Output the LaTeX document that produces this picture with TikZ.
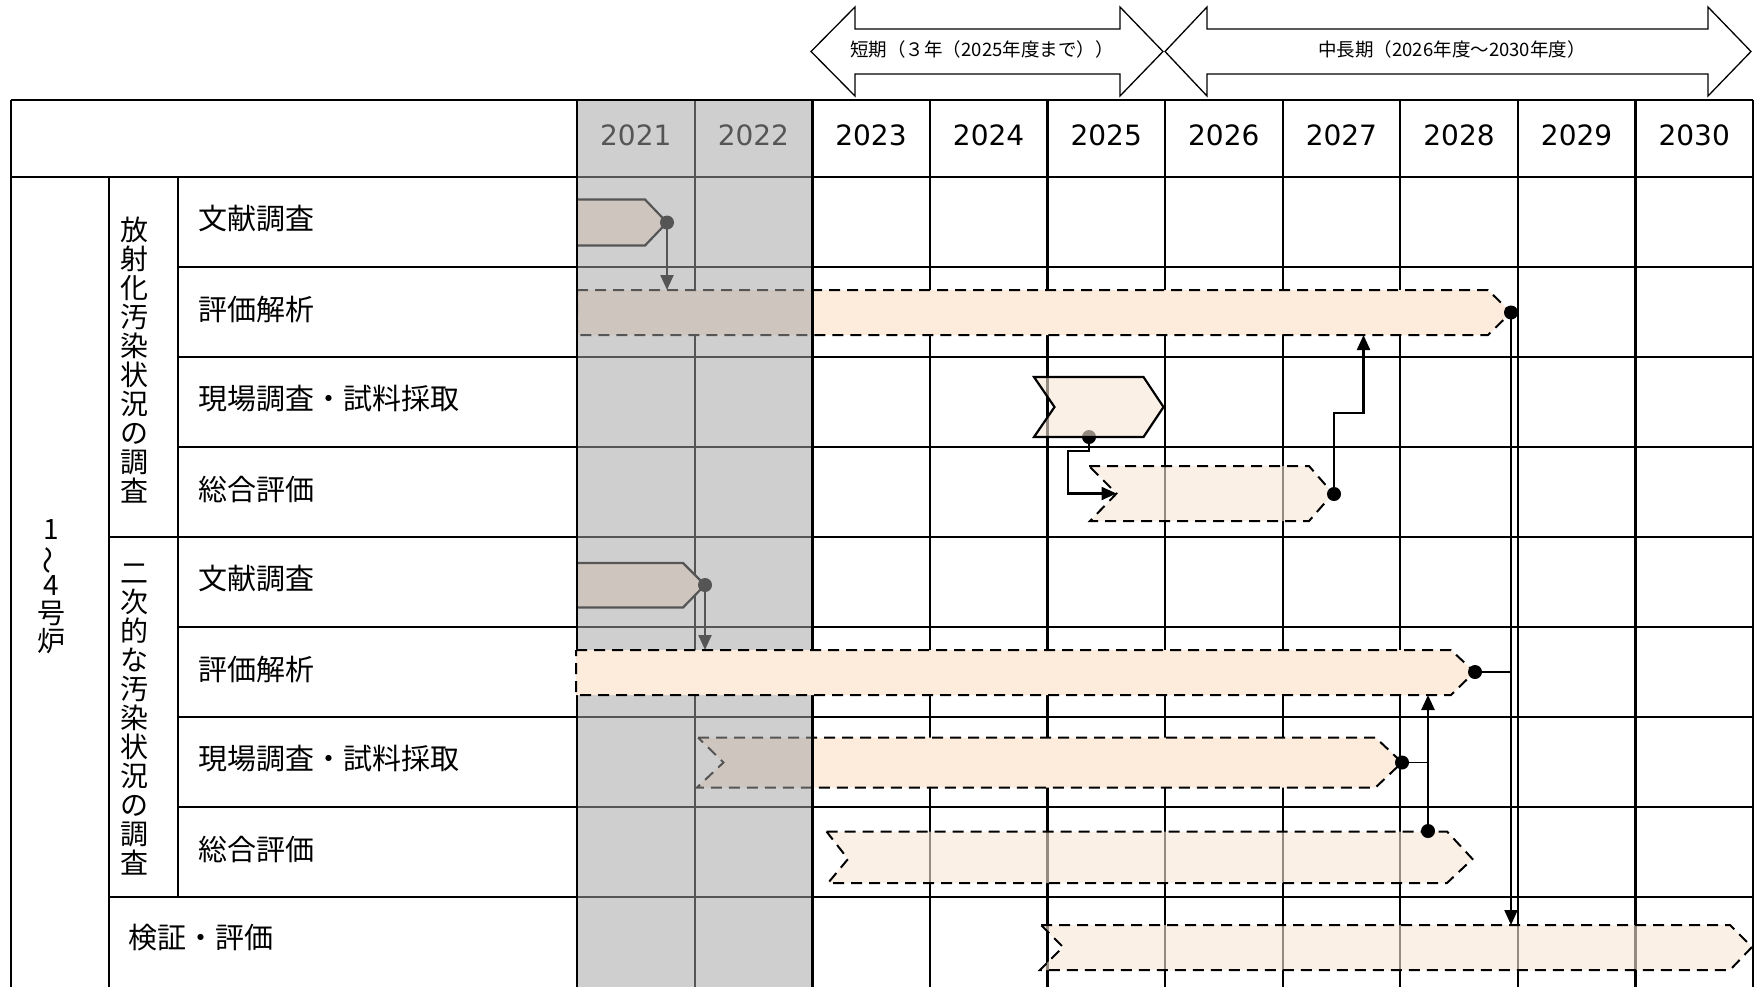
\documentclass[tikz,border=0pt]{standalone}
\usepackage{fontspec}
\usepackage{graphicx}
\usetikzlibrary{arrows.meta}
\newfontfamily\jp{Noto Sans CJK JP}
\newfontfamily\dv{DejaVu Sans}
\definecolor{peachC}{RGB}{253,235,220}
\definecolor{lpeachC}{RGB}{249,231,214}
\definecolor{ovlC}{RGB}{164,164,164}
\begin{document}
\begin{tikzpicture}[x=1pt,y=-1pt,
  gridln/.style={line width=2.2pt,black},
  dashbar/.style={draw=black,line width=2pt,dash pattern=on 11pt off 7pt},
  solidbar/.style={draw=black,line width=2.2pt,line join=miter},
  fillpk/.style={fill=peachC},
  filllt/.style={fill=lpeachC,fill opacity=0.6},
  conn/.style={line width=2.2pt,-{Triangle[length=15pt,width=13pt]}},
  connthin/.style={line width=1.3pt},
  dotc/.style={circle,fill=black,inner sep=0pt,minimum size=14pt},
  yr/.style={font=\dv\fontsize{28}{30}\selectfont,inner sep=0pt},
  lbl/.style={font=\jp\fontsize{29}{30}\selectfont,inner sep=0pt,anchor=west},
  vlbl/.style={font=\jp\fontsize{28}{29}\selectfont,inner sep=0pt,align=center},
  per/.style={draw=black,line width=1.3pt,fill=white},
  pertxt/.style={font=\jp\fontsize{18.5}{20}\selectfont,inner sep=0pt}
]
\useasboundingbox (0,0) rectangle (1762,986);
\fill[white] (0,0) rectangle (1762,986);
\clip (0,0) rectangle (1762,986);

% period arrows
\draw[per] (811,51.5) -- (855,7) -- (855,29) -- (1120,29) -- (1120,7) -- (1163,51.5) -- (1120,96) -- (1120,74) -- (855,74) -- (855,96) -- cycle;
\draw[per] (1165,51.5) -- (1207,7) -- (1207,29) -- (1708,29) -- (1708,7) -- (1751,51.5) -- (1708,96) -- (1708,74) -- (1207,74) -- (1207,96) -- cycle;
\node[pertxt] (p1) at (982,49) {短期（３年（2025年度まで））};
\node[pertxt] (p2) at (1452,49) {中長期（2026年度～2030年度）};

% grid
\draw[gridln] (11,100) -- (1753,100);
\draw[gridln] (11,177) -- (1753,177);
\draw[gridln] (11,100) -- (11,1000);
\draw[gridln] (1753,100) -- (1753,1000);
\draw[gridln] (109,177) -- (109,1000);
\draw[gridln] (178,177) -- (178,897);
\foreach \y in {267,357,447,627,717,807} \draw[gridln] (178,\y) -- (1753,\y);
\foreach \y in {537,897} \draw[gridln] (109,\y) -- (1753,\y);
\foreach \i in {0,...,9} \draw[gridln] ({577+117.6*\i},100) -- ({577+117.6*\i},1000);

% year labels
\foreach \yv [count=\i from 0] in {2021,2022,2023,2024,2025,2026,2027,2028,2029,2030}
  \node[yr] (y\yv) at ({635.8+117.6*\i},135) {\yv};

% row labels
\node[lbl] (l1) at (198,219) {文献調査};
\node[lbl] (l2) at (198,309) {評価解析};
\node[lbl] (l3) at (198,399) {現場調査・試料採取};
\node[lbl] (l4) at (198,489) {総合評価};
\node[lbl] (l5) at (198,579) {文献調査};
\node[lbl] (l6) at (198,669) {評価解析};
\node[lbl] (l7) at (198,759) {現場調査・試料採取};
\node[lbl] (l8) at (198,849) {総合評価};
\node[lbl] (l9) at (128,938) {検証・評価};
\node[vlbl] (v1) at (134.7,360) {放\\射\\化\\汚\\染\\状\\況\\の\\調\\査};
\node[vlbl] (v2) at (134.7,720) {二\\次\\的\\な\\汚\\染\\状\\況\\の\\調\\査};
\node[vlbl,font=\jp\fontsize{28}{28}\selectfont] (v0) at (51.7,587) {1\\\rotatebox[origin=c]{90}{～}\\4\\号\\炉};

% bars under overlay
\path[fillpk] (577,199.5) -- (645,199.5) -- (667,222.5) -- (645,245.5) -- (577,245.5) -- cycle;
\draw[solidbar] (577,199.5) -- (645,199.5) -- (667,222.5) -- (645,245.5) -- (577,245.5);
\path[dashbar,fillpk] (577,290) -- (1488,290) -- (1511,312.5) -- (1488,335) -- (577,335) -- cycle;
\path[fillpk] (577,563) -- (683,563) -- (705,585) -- (683,607.5) -- (577,607.5) -- cycle;
\draw[solidbar] (577,563) -- (683,563) -- (705,585) -- (683,607.5) -- (577,607.5);
\path[dashbar,fillpk] (698,737.5) -- (1375.5,737.5) -- (1402,762.5) -- (1375.5,787.5) -- (697,787.5) -- (723.5,762.5) -- cycle;

% connectors in grey zone
\node[dotc] (d1) at (667,222.5) {};
\node[dotc] (d5) at (705,585) {};
\coordinate (t1) at (667,290);
\coordinate (t5) at (705,650);
\draw[conn] (d1.center) -- (t1);
\draw[conn] (d5.center) -- (t5);

% light bars
\node[dotc] (d3) at (1089,437) {};
\path[solidbar,filllt] (1034,377) -- (1143.5,377) -- (1163.5,407) -- (1143.5,437) -- (1034,437) -- (1054.5,407) -- cycle;
\path[dashbar,filllt] (1089,466) -- (1309,466) -- (1333,493.5) -- (1309,521) -- (1090,521) -- (1116.5,493.5) -- cycle;
\path[dashbar,filllt] (826.5,831.5) -- (1447,831.5) -- (1472.5,859) -- (1447,883) -- (828,883) -- (848,859) -- cycle;
\path[dashbar,filllt] (1041,925) -- (1730,925) -- (1752,947) -- (1730,970) -- (1040,970) -- (1063,947) -- cycle;

% grey overlay for 2021-2022
\fill[ovlC,fill opacity=0.52] (578.1,100) rectangle (810.7,1000);
\draw[gridln] (577,100) -- (577,1000);
\draw[line width=3pt] (812.2,100) -- (812.2,1000);
\draw[gridln] (577,100) -- (812,100);

% bar on top of overlay
\path[dashbar,fillpk] (576,650) -- (1451,650) -- (1474.5,672) -- (1451,695) -- (576,695) -- cycle;

% dots and connectors
\node[dotc] (d2) at (1511,312.5) {};
\node[dotc] (d4) at (1334,494) {};
\node[dotc] (d6) at (1475,672) {};
\node[dotc] (d7) at (1402,762.5) {};
\node[dotc] (d8) at (1428,831) {};
\coordinate (t3) at (1116.5,493.5);
\coordinate (t4) at (1363.5,335);
\coordinate (t2) at (1511,925);
\coordinate (j6) at (1511,672);
\coordinate (j7) at (1428,762.5);
\coordinate (t8) at (1428,695);
\draw[conn] (d3.center) -- (1089,451) -- (1068,451) -- (1068,493.5) -- (t3);
\draw[conn] (d4.center) -- (1334,413) -- (1363.5,413) -- (t4);
\draw[conn] (d2.center) -- (t2);
\draw[connthin] (d6.center) -- (j6);
\draw[connthin] (d7.center) -- (j7);
\draw[conn,line width=2.7pt] (d8.center) -- (t8);
\end{tikzpicture}
\end{document}
